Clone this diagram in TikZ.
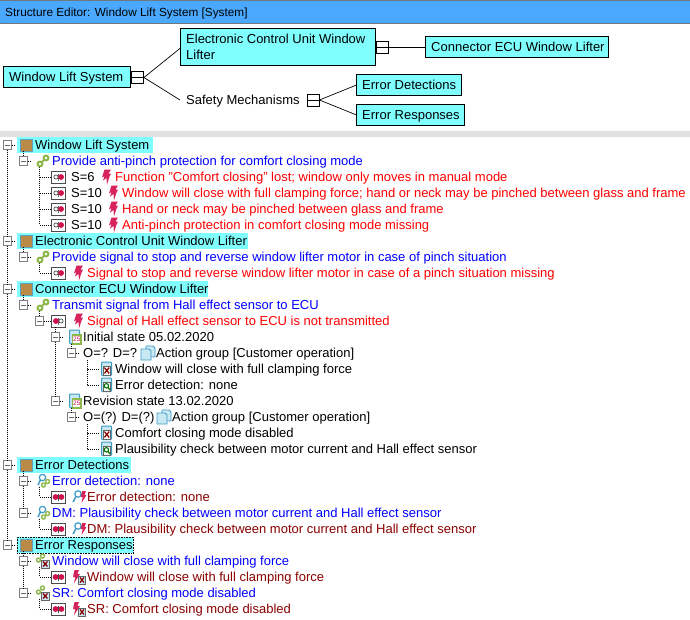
\documentclass[tikz,border=0pt]{standalone}
\usepackage{fontspec}
\setmainfont{Liberation Sans}
\definecolor{titleblue}{HTML}{4AA8FF}
\definecolor{titleline}{HTML}{6E7880}
\definecolor{band}{HTML}{E1E1E1}
\definecolor{cyanbox}{HTML}{80FFFF}
\definecolor{brownsq}{HTML}{B98A45}
\definecolor{brownedge}{HTML}{5FA0C0}
\definecolor{boltred}{HTML}{D8225A}
\definecolor{linkgreen}{HTML}{8DB84A}
\definecolor{clipblue}{HTML}{C8E8F4}
\definecolor{clipedge}{HTML}{3E9CC4}
\definecolor{darkred}{HTML}{8B0000}
\definecolor{dotred}{HTML}{D0104A}
\newcommand{\ficonbolt}[2]{\begin{scope}[shift={(#1,#2)}]
 \fill[boltred] (3.5,-7.5) -- (10,-7.5) -- (7.5,-3.5) -- (10,-3.5) -- (8.5,-.5) -- (6,7.5) -- (5.5,1) -- (2,3.5) -- (3.5,-1) -- (1,.5) -- cycle;\end{scope}}
\newcommand{\ficondots}[2]{\begin{scope}[shift={(#1,#2)}]
 \draw[black!75,line width=.7pt] (-2.5,0) circle (2.1);
 \draw[black!60,line width=.3pt] (0,-3.5) -- (0,3.5);
 \fill[dotred] (2.6,0) circle (2.9);\end{scope}}
\newcommand{\ficondotsb}[2]{\begin{scope}[shift={(#1,#2)}]
 \fill[dotred] (-2.9,0) circle (2.9);\fill[dotred] (2.9,0) circle (2.9);
 \draw[black!70,line width=.3pt] (0,-3.5) -- (0,3.5);\end{scope}}
\newcommand{\ficondotsc}[2]{\begin{scope}[shift={(#1,#2)}]
 \draw[black!60,line width=.3pt] (0,-3.5) -- (0,3.5);
 \fill[dotred] (-2.6,0) circle (2.9);\draw[black!75,line width=.7pt] (2.5,0) circle (2.1);\end{scope}}
\newcommand{\ficonlink}[2]{\begin{scope}[shift={(#1,#2)}]
 \draw[linkgreen,line width=2pt] (-3,3) circle (2.4);\draw[linkgreen,line width=2pt] (3,-3) circle (2.4);\draw[linkgreen,line width=2pt] (-1,1) -- (1,-1);\end{scope}}
\newcommand{\ficonclip}[2]{\begin{scope}[shift={(#1,#2)}]
 \draw[clipedge,fill=clipblue,line width=1pt,rounded corners=.8pt] (-5.5,-7) rectangle (4.5,6.5);\end{scope}}
\newcommand{\ficoncal}[2]{\ficonclip{#1}{#2}\begin{scope}[shift={(#1,#2)}]
 \draw[linkgreen,fill=white,line width=1.2pt] (-2.5,-2) rectangle (6,7);
 \node[font=\fontsize{6.5}{7}\selectfont,text=dotred,inner sep=0] at (1.8,2.7) {25};\end{scope}}
\newcommand{\ficonx}[2]{\ficonclip{#1}{#2}\begin{scope}[shift={(#1,#2)}]
 \draw[black!60,fill=white,line width=.5pt] (-4,-3) rectangle (3.5,6);
 \draw[darkred,line width=1.3pt] (-2.6,-1.4) -- (2.2,4.4) (-2.6,4.4) -- (2.2,-1.4);\end{scope}}
\newcommand{\ficonmag}[2]{\ficonclip{#1}{#2}\begin{scope}[shift={(#1,#2)}]
 \draw[black!60,fill=white,line width=.5pt] (-4,-3) rectangle (3.5,6);
 \draw[green!45!black,line width=1.1pt] (-.6,.8) circle (2.2);
 \draw[green!45!black,line width=1.3pt] (1,2.5) -- (3,5);\end{scope}}
\newcommand{\ficondoc}[2]{\begin{scope}[shift={(#1,#2)}]
 \draw[clipedge,fill=clipblue,line width=.8pt] (-2,-7) -- (5,-7) -- (7,-5) -- (7,4) -- (-2,4) -- cycle;
 \draw[clipedge,fill=clipblue,line width=.8pt] (-7,-4) -- (1,-4) -- (3,-2) -- (3,7) -- (-7,7) -- cycle;\end{scope}}
\newcommand{\ficondet}[2]{\begin{scope}[shift={(#1,#2)}]
 \draw[clipedge,fill=white,line width=1.2pt] (-.5,-3.5) circle (3.2);
 \draw[clipedge,line width=1.5pt] (-2.5,-1) -- (-5,4);
 \draw[linkgreen,line width=1.4pt] (.5,4) circle (2);\draw[linkgreen,line width=1.4pt] (4.5,.5) circle (2);\end{scope}}
\newcommand{\ficondetb}[2]{\begin{scope}[shift={(#1,#2)}]
 \draw[clipedge,fill=white,line width=1.2pt] (-1,-3) circle (3.2);
 \draw[clipedge,line width=1.5pt] (-3,-.5) -- (-6,5);
 \fill[boltred] (3,-6) -- (7,-6) -- (5.5,-2) -- (7.5,-2) -- (2.5,6) -- (3.7,0) -- (1.8,0) -- cycle;\end{scope}}
\newcommand{\ficonrsp}[2]{\begin{scope}[shift={(#1,#2)}]
 \draw[linkgreen,line width=1.4pt] (-3.5,-1) circle (2);\draw[linkgreen,line width=1.4pt] (.5,-5) circle (2);
 \draw[black!60,fill=clipblue,line width=.5pt] (-.5,-1) rectangle (7,7);
 \draw[darkred,line width=1.3pt] (1,.5) -- (5.5,5.5) (1,5.5) -- (5.5,.5);\end{scope}}
\newcommand{\ficonrspb}[2]{\begin{scope}[shift={(#1,#2)}]
 \fill[boltred] (-3.5,-7) -- (1,-7) -- (-.5,-3) -- (2,-3) -- (-4,6) -- (-2.7,0) -- (-5,0) -- cycle;
 \draw[black!60,fill=clipblue,line width=.5pt] (.5,-1) rectangle (7.5,7);
 \draw[darkred,line width=1.3pt] (2,.5) -- (6,5.5) (2,5.5) -- (6,.5);\end{scope}}
\tikzset{
 x=1pt,y=-1pt,
 uitext/.style={anchor=base west,inner sep=0pt,font=\fontsize{13}{15}\selectfont},
 gbox/.style={draw=black,line width=1pt,fill=cyanbox},
 gexp/.style={draw=black,line width=.9pt,fill=white,minimum size=12pt,inner sep=0pt,
   path picture={\draw[black,line width=.7pt] (path picture bounding box.west) -- (path picture bounding box.east);}},
 texp/.style={draw=black!50,line width=.8pt,fill=white,minimum size=8.5pt,inner sep=0pt,
   path picture={\draw[black!60,line width=.7pt] ([xshift=1.5pt]path picture bounding box.west) -- ([xshift=-1.5pt]path picture bounding box.east);}},
 glink/.style={black,line width=.7pt},
 treeline/.style={black,line width=1pt,dash pattern=on 1pt off 1pt},
 bugbox/.style={draw=black!70,line width=.9pt,fill=white,minimum width=14pt,minimum height=12pt,inner sep=0pt},
 hilite/.style={fill=cyanbox,draw=none,anchor=west,minimum height=16pt,inner sep=0pt},
 brownbox/.style={fill=brownsq,draw=brownedge,line width=.8pt,minimum size=12pt,inner sep=0pt},
}
\begin{document}
\begin{tikzpicture}
\useasboundingbox (0,0) rectangle (690,619);
\fill[white] (0,0) rectangle (690,619);
% title bar
\fill[titleblue] (0,0) rectangle (690,23);
\fill[titleline] (0,0) rectangle (690,.8);
\fill[titleline] (0,23) rectangle (690,23.8);
\node[uitext,font=\fontsize{11.8}{14}\selectfont] (title) at (5,16) {Structure Editor: Window Lift System [System]};
\fill[band] (0,131) rectangle (690,137);
% structure graph
\draw[gbox] (3.5,66.5) rectangle (130.5,87);
\node[uitext] (groot) at (9,81.5) {Window Lift System};
\coordinate (grootw) at (130.5,77);
\draw[gbox] (180.5,28.5) rectangle (375.5,65);
\node[uitext] (gecu1) at (186,43.5) {Electronic Control Unit Window};
\node[uitext] (gecu2) at (186,59.5) {Lifter};
\coordinate (gecuw) at (180.5,48);
\draw[gbox] (425.5,36.5) rectangle (608.5,57);
\node[uitext] (gconn) at (431,51.5) {Connector ECU Window Lifter};
\coordinate (gconnw) at (425.5,47.5);
\node[uitext] (gsafe) at (186,104.5) {Safety Mechanisms};
\coordinate (gsafew) at (180,100);
\draw[gbox] (356.5,74.5) rectangle (461.5,95.5);
\node[uitext] (gdet) at (362,89.5) {Error Detections};
\coordinate (gdetw) at (356.5,85);
\draw[gbox] (356.5,104.5) rectangle (464.5,125.5);
\node[uitext] (gres) at (362,119.5) {Error Responses};
\coordinate (gresw) at (356.5,115);
\node[gexp] (gx1) at (137.5,77.5) {};
\node[gexp] (gx2) at (382,47.5) {};
\node[gexp] (gx3) at (313,100) {};
\draw[glink] (gx1.east) -- (gecuw);
\draw[glink] (gx1.east) -- (gsafew);
\draw[glink] (gx2.east) -- (gconnw);
\draw[glink] (gx3.east) -- (gdetw);
\draw[glink] (gx3.east) -- (gresw);
% highlights and top level rows
\node[hilite,minimum width=136pt] (h1) at (17,145) {};
\node[hilite,minimum width=231pt] (h2) at (17,241) {};
\node[hilite,minimum width=191pt] (h3) at (17,289) {};
\node[hilite,minimum width=114pt] (h4) at (17,465) {};
\node[hilite,minimum width=116pt,draw=black,densely dotted,line width=.6pt] (h5) at (17,545) {};
\foreach \n/\y in {1/145,2/241,3/289,4/465,5/545}{
 \node[brownbox] (sq\n) at (26.5,\y) {};
 \node[texp] (r\n) at (7.5,\y) {};
}
\draw[treeline] (r1) -- (r2);\draw[treeline] (r2) -- (r3);\draw[treeline] (r3) -- (r4);\draw[treeline] (r4) -- (r5);
\foreach \n in {1,...,5}{\draw[treeline] (r\n.east) -- +(4,0);}
\node[uitext] (t1) at (35,149.5) {Window Lift System};
\node[uitext] (t2) at (35,245.5) {Electronic Control Unit Window Lifter};
\node[uitext] (t3) at (35,293.5) {Connector ECU Window Lifter};
\node[uitext] (t4) at (35,469.5) {Error Detections};
\node[uitext] (t5) at (35,549.5) {Error Responses};
% level 1 expanders
\foreach \n/\y in {a/161,b/257,c/305,d/481,e/513,f/561,g/593}{
 \node[texp] (x\n) at (23.5,\y) {};
 \draw[treeline] (x\n.east) -- +(4,0);
}
\draw[treeline] (sq1.south -| xa) -- (xa);
\draw[treeline] (sq2.south -| xb) -- (xb);
\draw[treeline] (sq3.south -| xc) -- (xc);
\draw[treeline] (sq4.south -| xd) -- (xd);
\draw[treeline] (xd) -- (xe);
\draw[treeline] (sq5.south -| xf) -- (xf);
\draw[treeline] (xf) -- (xg);
% bug boxes
\foreach \n/\y in {1/177,2/193,3/209,4/225,5/273,7/497,8/529,9/577,10/609}{\node[bugbox] (b\n) at (58.5,\y) {};}
\node[texp] (xh) at (39.5,321) {};
\node[bugbox] (b6) at (58.5,321) {};
\coordinate (la) at (39.5,167);\coordinate (lb) at (39.5,263);\coordinate (lc) at (39.5,311);
\coordinate (ld) at (39.5,487);\coordinate (le) at (39.5,519);\coordinate (lf) at (39.5,567);\coordinate (lg) at (39.5,599);
\draw[treeline] (la) |- (b1.west);\draw[treeline] (la) |- (b2.west);\draw[treeline] (la) |- (b3.west);\draw[treeline] (la) |- (b4.west);
\draw[treeline] (lb) |- (b5.west);
\draw[treeline] (lc) -- (xh);
\draw[treeline] (xh.east) -- (b6.west);
\draw[treeline] (ld) |- (b7.west);
\draw[treeline] (le) |- (b8.west);
\draw[treeline] (lf) |- (b9.west);
\draw[treeline] (lg) |- (b10.west);
\foreach \y in {177,193,209,225,273}{\ficondots{58.5}{\y}}
\ficondotsc{58.5}{321}
\foreach \y in {497,529,577,609}{\ficondotsb{58.5}{\y}}
% sub-tree of the connector
\node[texp] (xi) at (55.5,337) {};
\node[texp] (xj) at (71.5,353) {};
\node[texp] (xk) at (55.5,401) {};
\node[texp] (xl) at (71.5,417) {};
\draw[treeline] (b6.south -| xi) -- (xi);
\draw[treeline] (xi) -- (xk);
\draw[treeline] (71.5,344) -- (xj);
\draw[treeline] (71.5,408) -- (xl);
\foreach \n in {i,j,k,l}{\draw[treeline] (x\n.east) -- +(4,0);}
\coordinate (pa) at (87,360);\coordinate (pb) at (87,424);
\foreach \n/\y in {a/369,b/385,c/433,d/449}{\coordinate (lf\n) at (100,\y);}
\draw[treeline] (pa) |- (lfa);\draw[treeline] (pa) |- (lfb);
\draw[treeline] (pb) |- (lfc);\draw[treeline] (pb) |- (lfd);
\ficoncal{75}{337}\ficoncal{75}{401}
\ficondoc{148}{353}\ficondoc{164}{417}
\ficonx{107}{369}\ficonmag{107}{385}\ficonx{107}{433}\ficonmag{107}{449}
% link icons
\foreach \y in {161,257,305}{\ficonlink{43}{\y}}
\ficondet{43}{481}\ficondet{43}{513}
\ficonrsp{42}{561}\ficonrsp{42}{593}
% bolts
\ficonbolt{101}{177}\ficonbolt{108}{193}\ficonbolt{108}{209}\ficonbolt{108}{225}
\ficonbolt{73}{273}\ficonbolt{73}{321}
\ficondetb{79}{497}\ficondetb{79}{529}
\ficonrspb{78}{577}\ficonrspb{78}{609}
% texts
\node[uitext,text=blue] (a1) at (52,165.5) {Provide anti-pinch protection for comfort closing mode};
\node[uitext] (s1) at (71,181.5) {S=6};
\node[uitext,text=red] (a2) at (115,181.5) {Function "Comfort closing" lost; window only moves in manual mode};
\node[uitext] (s2) at (71,197.5) {S=10};
\node[uitext,text=red] (a3) at (122,197.5) {Window will close with full clamping force; hand or neck may be pinched between glass and frame};
\node[uitext] (s3) at (71,213.5) {S=10};
\node[uitext,text=red] (a4) at (122,213.5) {Hand or neck may be pinched between glass and frame};
\node[uitext] (s4) at (71,229.5) {S=10};
\node[uitext,text=red] (a5) at (122,229.5) {Anti-pinch protection in comfort closing mode missing};
\node[uitext,text=blue] (a6) at (52,261.5) {Provide signal to stop and reverse window lifter motor in case of pinch situation};
\node[uitext,text=red] (a7) at (87,277.5) {Signal to stop and reverse window lifter motor in case of a pinch situation missing};
\node[uitext,text=blue] (a8) at (52,309.5) {Transmit signal from Hall effect sensor to ECU};
\node[uitext,text=red] (a9) at (87,325.5) {Signal of Hall effect sensor to ECU is not transmitted};
\node[uitext] (a10) at (83,341.5) {Initial state 05.02.2020};
\node[uitext] (a11) at (83,357.5) {O=? D=?};
\node[uitext] (a12) at (156,357.5) {Action group [Customer operation]};
\node[uitext] (a13) at (115,373.5) {Window will close with full clamping force};
\node[uitext] (a14) at (115,389.5) {Error detection: none};
\node[uitext] (a15) at (83,405.5) {Revision state 13.02.2020};
\node[uitext] (a16) at (83,421.5) {O=(?) D=(?)};
\node[uitext] (a17) at (172,421.5) {Action group [Customer operation]};
\node[uitext] (a18) at (115,437.5) {Comfort closing mode disabled};
\node[uitext] (a19) at (115,453.5) {Plausibility check between motor current and Hall effect sensor};
\node[uitext,text=blue] (a20) at (52,485.5) {Error detection: none};
\node[uitext,text=darkred] (a21) at (87,501.5) {Error detection: none};
\node[uitext,text=blue] (a22) at (52,517.5) {DM: Plausibility check between motor current and Hall effect sensor};
\node[uitext,text=darkred] (a23) at (87,533.5) {DM: Plausibility check between motor current and Hall effect sensor};
\node[uitext,text=blue] (a24) at (52,565.5) {Window will close with full clamping force};
\node[uitext,text=darkred] (a25) at (87,581.5) {Window will close with full clamping force};
\node[uitext,text=blue] (a26) at (52,597.5) {SR: Comfort closing mode disabled};
\node[uitext,text=darkred] (a27) at (87,613.5) {SR: Comfort closing mode disabled};
\end{tikzpicture}
\end{document}
